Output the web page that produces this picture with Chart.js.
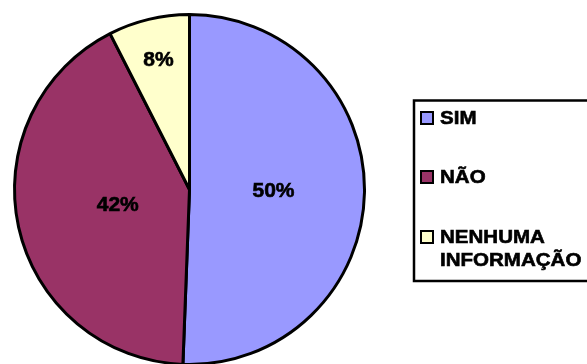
<!DOCTYPE html>
<html>
<head>
<meta charset="utf-8">
<script src="https://cdn.jsdelivr.net/npm/chart.js@4"></script>
<style>
  html, body { margin: 0; padding: 0; background: #fff; overflow: hidden; }
  #wrap { width: 587px; height: 364px; overflow: hidden; }
</style>
</head>
<body>
<div id="wrap"><canvas id="myChart" width="587" height="380"></canvas></div>
<script>
const categories = ['SIM', 'NÃO', ['NENHUMA', 'INFORMAÇÃO']];
const values = [50.6, 41.9, 7.5];
const pctLabels = ['50%', '42%', '8%'];
const colors = ['#9999FF', '#993366', '#FFFFCC'];

const FONT = '"Liberation Sans", Arial, sans-serif';

// bold text drawn a bit heavier, like the original
function heavyText(ctx, t, x, y, sx) {
  ctx.save();
  ctx.translate(x, y);
  ctx.scale(sx, 1);
  ctx.lineWidth = 0.6;
  ctx.strokeStyle = '#000';
  ctx.fillText(t, 0, 0);
  ctx.strokeText(t, 0, 0);
  ctx.restore();
}

// percent labels inside the slices
const sliceLabels = {
  id: 'sliceLabels',
  afterDatasetsDraw(chart, args, opts) {
    const ctx = chart.ctx;
    const arcs = chart.getDatasetMeta(0).data;
    ctx.save();
    ctx.font = 'bold 20px ' + FONT;
    ctx.fillStyle = '#000';
    ctx.textAlign = 'center';
    ctx.textBaseline = 'middle';
    arcs.forEach((arc, i) => {
      const p = arc.getProps(['x', 'y', 'startAngle', 'endAngle', 'outerRadius']);
      const mid = (p.startAngle + p.endAngle) / 2;
      const r = p.outerRadius * opts.factors[i];
      heavyText(ctx, pctLabels[i], p.x + Math.cos(mid) * r, p.y + Math.sin(mid) * r, 1.05);
    });
    ctx.restore();
  }
};

// boxed legend on the right, like the spreadsheet one
const boxLegend = {
  id: 'boxLegend',
  afterDraw(chart, args, opts) {
    const ctx = chart.ctx;
    ctx.save();
    ctx.lineWidth = 2.5;
    ctx.strokeStyle = '#000';
    ctx.strokeRect(414, 100.5, 200, 180.5);
    ctx.font = 'bold 19px ' + FONT;
    ctx.textBaseline = 'middle';
    ctx.textAlign = 'left';
    chart.data.labels.forEach((lab, i) => {
      const y = opts.rows[i];
      ctx.fillStyle = colors[i];
      ctx.fillRect(421, y - 6, 12, 12);
      ctx.lineWidth = 2;
      ctx.strokeRect(421, y - 6, 12, 12);
      ctx.fillStyle = '#000';
      const lines = Array.isArray(lab) ? lab : [lab];
      lines.forEach((t, k) => heavyText(ctx, t, 440, y + 1 + k * 23, 1.08));
    });
    ctx.restore();
  }
};

const ctx = document.getElementById('myChart').getContext('2d');

const myChart = new Chart(ctx, {
  type: 'pie',
  data: {
    labels: categories,
    datasets: [{
      data: values,
      backgroundColor: colors,
      borderColor: '#000',
      borderWidth: 3,
    }]
  },
  options: {
    responsive: false,
    animation: false,
    layout: {
      padding: { left: 13, top: 13, right: 221, bottom: 14 }
    },
    plugins: {
      legend: { display: false },
      tooltip: { enabled: false },
      sliceLabels: { factors: [0.48, 0.42, 0.76] },
      boxLegend: { rows: [118, 177, 237] }
    }
  },
  plugins: [sliceLabels, boxLegend]
});
</script>
</body>
</html>
